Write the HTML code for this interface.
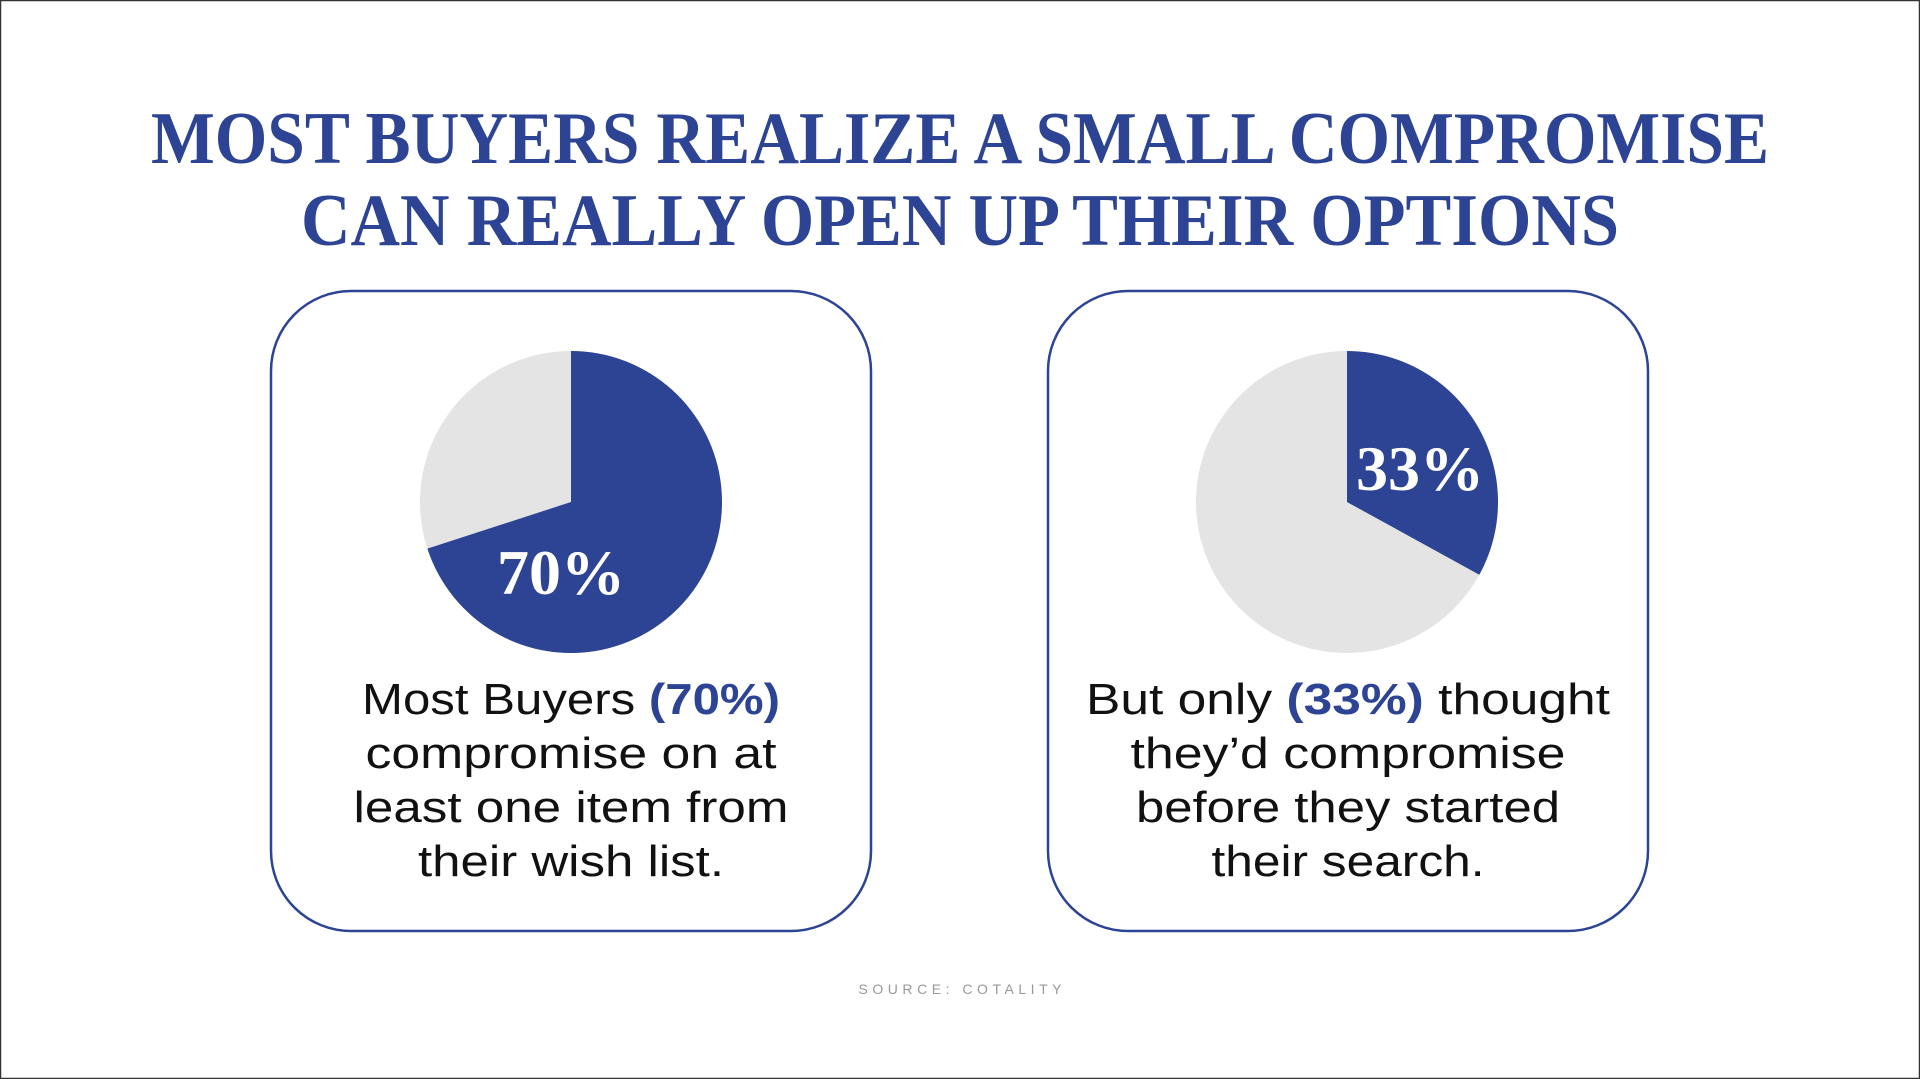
<!DOCTYPE html>
<html><head><meta charset="utf-8"><style>
html,body{margin:0;padding:0;background:#fff}
svg{display:block}
</style></head><body>
<svg id="s" width="1920" height="1079" viewBox="0 0 1920 1079" xmlns="http://www.w3.org/2000/svg">
<rect x="0.5" y="0.5" width="1919" height="1078" fill="#fff" stroke="#333" stroke-width="1.5"/>
<g font-family="'Liberation Serif', serif" font-weight="bold" fill="#2d4494" text-anchor="middle">
<text x="960" y="163" font-size="74" textLength="1618" lengthAdjust="spacingAndGlyphs">MOST BUYERS REALIZE A SMALL COMPROMISE</text>
<text x="960" y="245" font-size="74" textLength="1318" lengthAdjust="spacingAndGlyphs">CAN REALLY OPEN UP THEIR OPTIONS</text>
</g>
<rect x="271" y="291" width="600" height="640" rx="80" fill="none" stroke="#2d4494" stroke-width="2.5"/>
<rect x="1048" y="291" width="600" height="640" rx="80" fill="none" stroke="#2d4494" stroke-width="2.5"/>
<g id="pies"></g>
<g font-family="'Liberation Sans', sans-serif" font-size="44" fill="#111" text-anchor="middle">
<text x="571" y="714" textLength="418" lengthAdjust="spacingAndGlyphs">Most Buyers <tspan font-weight="bold" fill="#2d4494">(70%)</tspan></text>
<text x="571" y="768" textLength="411" lengthAdjust="spacingAndGlyphs">compromise on at</text>
<text x="571" y="822" textLength="435" lengthAdjust="spacingAndGlyphs">least one item from</text>
<text x="571" y="876" textLength="306" lengthAdjust="spacingAndGlyphs">their wish list.</text>
</g>
<g font-family="'Liberation Sans', sans-serif" font-size="44" fill="#111" text-anchor="middle">
<text x="1348" y="714" textLength="524" lengthAdjust="spacingAndGlyphs">But only <tspan font-weight="bold" fill="#2d4494">(33%)</tspan> thought</text>
<text x="1348" y="768" textLength="435" lengthAdjust="spacingAndGlyphs">they’d compromise</text>
<text x="1348" y="822" textLength="424" lengthAdjust="spacingAndGlyphs">before they started</text>
<text x="1348" y="876" textLength="273" lengthAdjust="spacingAndGlyphs">their search.</text>
</g>
<text x="960" y="994" font-family="'Liberation Sans', sans-serif" font-size="14" fill="#999" text-anchor="middle" textLength="203" lengthAdjust="spacing">SOURCE: COTALITY</text>
</svg>
<script>
const pieNames = ['pie-wishlist-compromise', 'pie-expected-compromise'];
const pieValues = [70, 33];
const pieLabels = ['70%', '33%'];
const NS = 'http://www.w3.org/2000/svg';
const centers = [[571, 502], [1347, 502]];
const R = 151;
const g = document.getElementById('pies');
function pt(c, frac) {
  const a = frac * 2 * Math.PI - Math.PI / 2;
  return [c[0] + R * Math.cos(a), c[1] + R * Math.sin(a)];
}
pieValues.forEach((v, i) => {
  const c = centers[i];
  const bg = document.createElementNS(NS, 'circle');
  bg.setAttribute('cx', c[0]); bg.setAttribute('cy', c[1]); bg.setAttribute('r', R);
  bg.setAttribute('fill', '#e4e4e4');
  
  
  g.appendChild(bg);
  const f = v / 100;
  const e = pt(c, f);
  const p = document.createElementNS(NS, 'path');
  p.setAttribute('d', `M${c[0]},${c[1]} L${c[0]},${c[1] - R} A${R},${R} 0 ${f > 0.5 ? 1 : 0} 1 ${e[0]},${e[1]} Z`);
  p.setAttribute('fill', '#2d4494');
  
  
  g.appendChild(p);
  let lx, ly;
  if (f > 0.5) { lx = c[0] - 10; ly = c[1] + 92; } else { lx = c[0] + 73; ly = c[1] - 12; }
  const t = document.createElementNS(NS, 'text');
  t.setAttribute('x', lx); t.setAttribute('y', ly);
  t.setAttribute('text-anchor', 'middle');
  t.setAttribute('font-family', "'Liberation Serif', serif");
  t.setAttribute('font-weight', 'bold');
  t.setAttribute('font-size', '64');
  t.setAttribute('fill', '#fff');
  t.textContent = pieLabels[i];
  
  
  g.appendChild(t);
});
</script>
</body></html>
